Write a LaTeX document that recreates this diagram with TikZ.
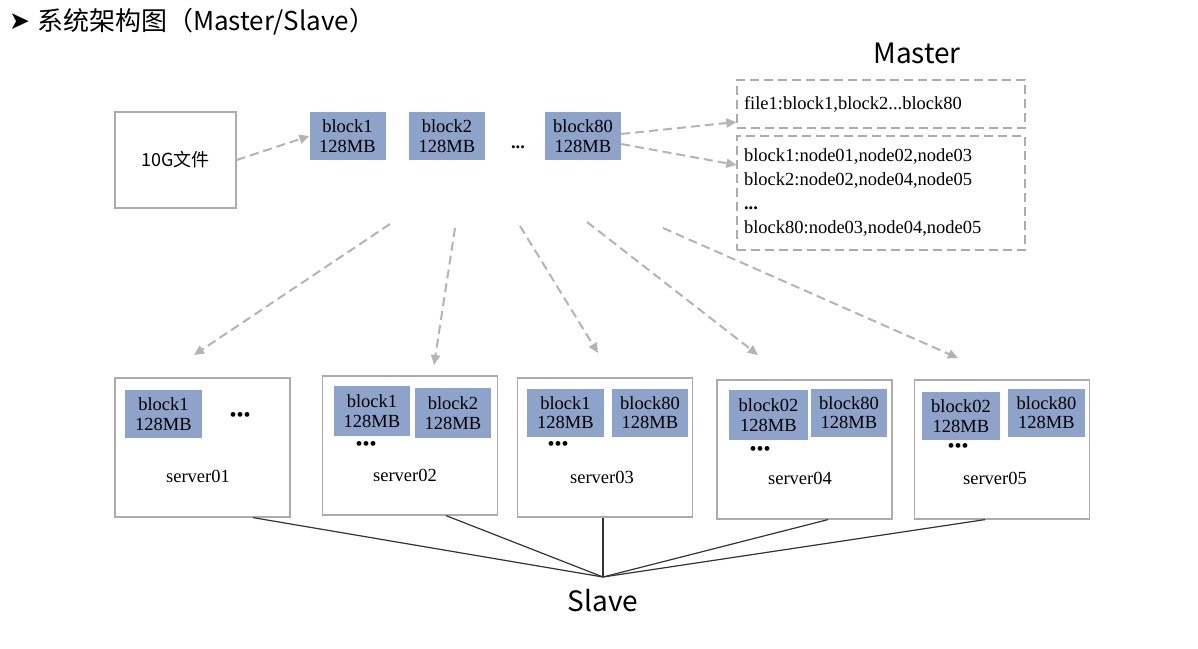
\documentclass[tikz,border=0pt]{standalone}
\usepackage{fontspec}
\setmainfont{Liberation Serif}
\newfontfamily\cjkfont{Noto Sans CJK SC}
\newfontfamily\symfont{DejaVu Sans}
\usetikzlibrary{arrows.meta}
\definecolor{blockBlue}{RGB}{142,163,201}
\definecolor{boxGray}{RGB}{172,172,172}
\definecolor{arrowGray}{RGB}{180,180,180}
\tikzstyle{blockStyle}=[shape = rectangle, fill = blockBlue, minimum width = 76pt, minimum height = 48pt, inner sep = 0pt, align = center, font = \fontsize{18.5}{19.5}\selectfont]
\tikzstyle{boxStyle}=[shape = rectangle, draw = boxGray, line width = 1.2pt, minimum width = 175pt, minimum height = 139pt, inner sep = 0pt]
\tikzstyle{masterStyle}=[shape = rectangle, draw = boxGray, line width = 1.2pt, dash pattern = on 9pt off 5pt, minimum width = 288pt, inner sep = 7pt, text width = 274pt, align = left, font = \fontsize{18.5}{24}\selectfont]

\begin{document}
\begin{tikzpicture}[x = 1pt, y = -1pt]
\tikzstyle{dashArrow}=[draw = arrowGray, line width = 2pt, dash pattern = on 9pt off 5pt, -{Triangle[length = 10pt, width = 9pt]}]
\tikzstyle{slaveLine}=[draw = black!80, line width = 1.2pt]
\tikzstyle{labelStyle}=[font = \fontsize{18.5}{19}\selectfont, inner sep = 0pt]
\tikzstyle{dotStyle}=[font = \fontsize{20}{20}\selectfont, inner sep = 0pt]
\tikzstyle{titleStyle}=[font = \cjkfont\fontsize{28}{30}\selectfont, inner sep = 0pt]
\useasboundingbox (0,0) rectangle (1198,648);
\node[titleStyle, anchor = west, font = \symfont\fontsize{25}{25}\selectfont] (bullet) at (9,22) {➤};
\node[titleStyle, anchor = west, font = \cjkfont\fontsize{26}{28}\selectfont] (title) at (37,22) {系统架构图（Master/Slave）};
\node[boxStyle, minimum width = 121pt, minimum height = 96pt, font = \cjkfont\fontsize{18}{20}\selectfont] (file) at (175.5,160) {10G文件};
\node[blockStyle] (blk1) at (347.5,136) {block1\\128MB};
\node[blockStyle] (blk2) at (447,136) {block2\\128MB};
\node[labelStyle] (dots) at (518,147) {\textbf{...}};
\node[blockStyle] (blk80) at (583,136) {block80\\128MB};
\node[titleStyle] (master) at (917,53) {Master};
\node[masterStyle, minimum height = 48pt] (map1) at (881,104) {file1:block1,block2...block80};
\node[masterStyle, minimum height = 114pt] (map2) at (881,193) {block1:node01,node02,node03\\block2:node02,node04,node05\\\textbf{...}\\block80:node03,node04,node05};
\node[boxStyle] (s1) at (202.5,447.5) {};
\node[boxStyle] (s2) at (410,445.5) {};
\node[boxStyle] (s3) at (605,447.5) {};
\node[boxStyle] (s4) at (804.5,449.5) {};
\node[boxStyle] (s5) at (1002,449.5) {};
\node[blockStyle, minimum width = 77pt] (s1b1) at (163.5,414) {block1\\128MB};
\node[blockStyle, minimum height = 50pt] (s2b1) at (372,411) {block1\\128MB};
\node[blockStyle, minimum height = 50pt] (s2b2) at (453,413) {block2\\128MB};
\node[blockStyle, minimum width = 77pt] (s3b1) at (565.5,412.5) {block1\\128MB};
\node[blockStyle] (s3b2) at (650,412.5) {block80\\128MB};
\node[blockStyle, minimum width = 79pt, minimum height = 50pt] (s4b1) at (768.5,415) {block02\\128MB};
\node[blockStyle] (s4b2) at (849,412.5) {block80\\128MB};
\node[blockStyle, minimum width = 78pt] (s5b1) at (961,416) {block02\\128MB};
\node[blockStyle, minimum width = 77pt] (s5b2) at (1046.5,412.5) {block80\\128MB};
\node[dotStyle] (s1dots) at (240,417) {•••};
\node[dotStyle] (s2dots) at (366,446) {•••};
\node[dotStyle] (s3dots) at (558,446) {•••};
\node[dotStyle] (s4dots) at (760,451) {•••};
\node[dotStyle] (s5dots) at (958,448) {•••};
\node[labelStyle] (s1name) at (198,476) {server01};
\node[labelStyle] (s2name) at (405,475) {server02};
\node[labelStyle] (s3name) at (602,477) {server03};
\node[labelStyle] (s4name) at (800,478) {server04};
\node[labelStyle] (s5name) at (995,478) {server05};
\node[titleStyle] (slave) at (603,601) {Slave};
\coordinate (hub) at (603,577);
\coordinate (d1) at (390,224);
\coordinate (d2) at (455,228);
\coordinate (d3) at (520,226);
\coordinate (d4) at (587,222);
\coordinate (d5) at (663,228);
\coordinate (e1) at (194,355);
\coordinate (e2) at (434,365);
\coordinate (e3) at (598,353);
\coordinate (e4) at (758,355);
\coordinate (e5) at (958,358);
\draw[dashArrow] (file.east) -- (blk1.west);
\draw[dashArrow] ([yshift = 2pt]blk80.east) -- ([yshift = -18pt]map1.west);
\draw[dashArrow] ([yshift = -8pt]blk80.east) -- ([yshift = 28pt]map2.west);
\draw[dashArrow] (d1) -- (e1);
\draw[dashArrow] (d2) -- (e2);
\draw[dashArrow] (d3) -- (e3);
\draw[dashArrow] (d4) -- (e4);
\draw[dashArrow] (d5) -- (e5);
\draw[slaveLine] ([xshift = 50.5pt]s1.south) -- (hub);
\draw[slaveLine] ([xshift = 36pt]s2.south) -- (hub);
\draw[slaveLine] ([xshift = -2pt]s3.south) -- (hub);
\draw[slaveLine] ([xshift = 23.5pt]s4.south) -- (hub);
\draw[slaveLine] ([xshift = -17pt]s5.south) -- (hub);
\end{tikzpicture}
\end{document}
